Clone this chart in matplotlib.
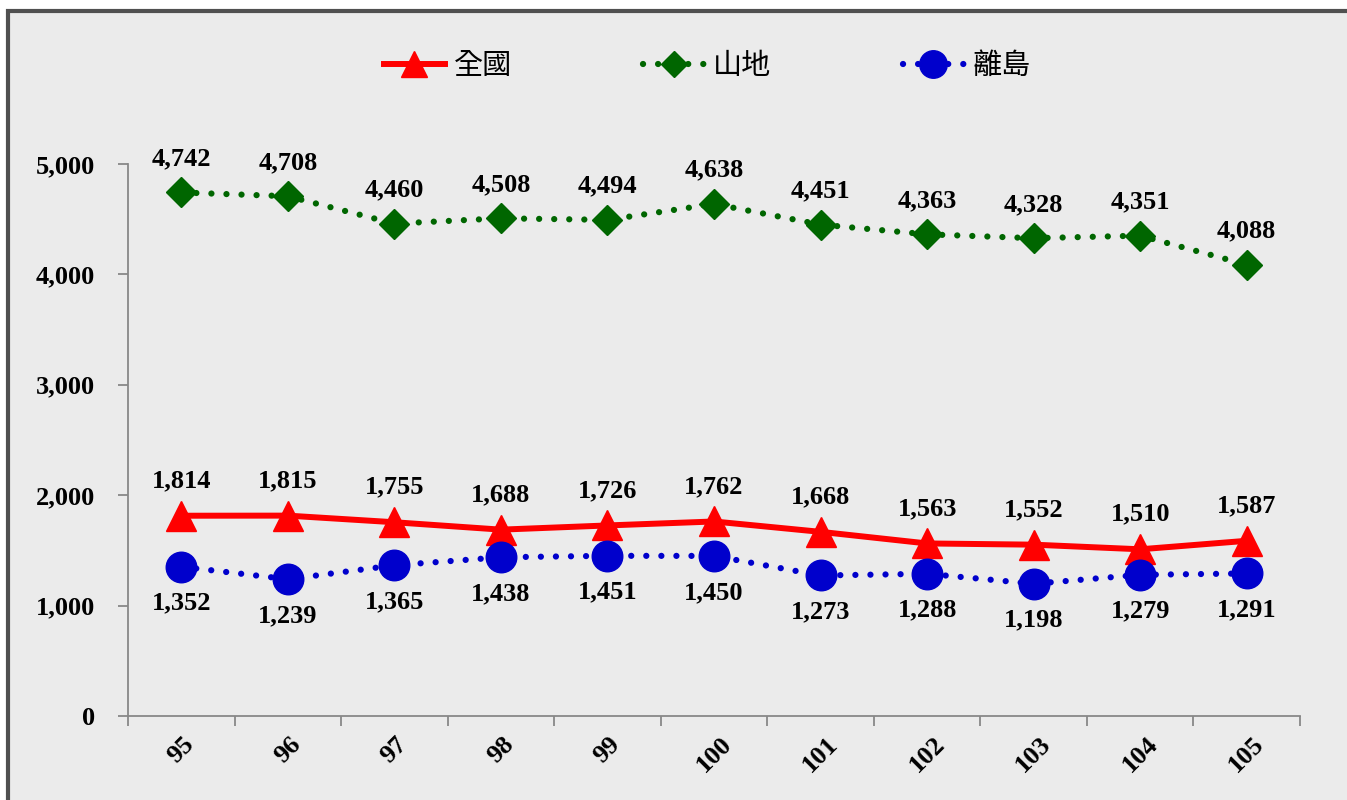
"""Line chart of yearly counts: nationwide, mountain and outlying-island areas."""
import matplotlib.pyplot as plt
from matplotlib.patches import Rectangle
from matplotlib.ticker import FuncFormatter, FixedLocator
import numpy as np

years = ["95", "96", "97", "98", "99", "100", "101", "102", "103", "104", "105"]
national = [1814, 1815, 1755, 1688, 1726, 1762, 1668, 1563, 1552, 1510, 1587]
mountain = [4742, 4708, 4460, 4508, 4494, 4638, 4451, 4363, 4328, 4351, 4088]
island = [1352, 1239, 1365, 1438, 1451, 1450, 1273, 1288, 1198, 1279, 1291]

BG = "#ebebeb"
RED = "#ff0000"
GREEN = "#006600"
BLUE = "#0000cc"

SERIF = ["Liberation Serif", "DejaVu Serif"]
CJK = ["Noto Sans CJK TC", "DejaVu Sans"]

fig = plt.figure(figsize=(13.47, 8), dpi=100)
fig.patch.set_facecolor("white")

# grey panel with dark frame on top/left
fig.patches.append(Rectangle((8 / 1347, -0.1), 1.2, 1 - 11 / 800 + 0.1,
                             transform=fig.transFigure, facecolor=BG,
                             edgecolor="#505050", linewidth=3, zorder=-10))

ax = fig.add_axes([128 / 1347, 1 - 716 / 800, (1300 - 128) / 1347, (716 - 164) / 800])
ax.patch.set_alpha(0)

x = np.arange(len(years))
dots = (0, (0.01, 2.4))

ax.plot(x, national, color=RED, lw=4.3, marker="^", ms=21, label="全國", zorder=3)
ax.plot(x, mountain, color=GREEN, lw=4.5, ls=dots, dash_capstyle="round",
        marker="D", ms=15, label="山地", zorder=3)
ax.plot(x, island, color=BLUE, lw=4.5, ls=dots, dash_capstyle="round",
        marker="o", ms=22, label="離島", zorder=3)

label_kw = dict(ha="center", fontsize=19, fontweight="bold", family=SERIF,
                textcoords="offset points")
for i in range(len(years)):
    ax.annotate(f"{national[i]:,}", (x[i], national[i]), xytext=(0, 17),
                va="bottom", **label_kw)
    ax.annotate(f"{mountain[i]:,}", (x[i], mountain[i]), xytext=(0, 16),
                va="bottom", **label_kw)
    ax.annotate(f"{island[i]:,}", (x[i], island[i]), xytext=(0, -18),
                va="top", **label_kw)

ax.set_xlim(-0.5, len(years) - 0.5)
ax.set_ylim(0, 5000)
ax.set_yticks(np.arange(0, 5001, 1000))
ax.yaxis.set_major_formatter(FuncFormatter(lambda v, p: f"{int(v):,}"))

# category ticks sit between categories; labels at category centres
ax.xaxis.set_major_locator(FixedLocator(np.arange(-0.5, len(years), 1)))
ax.set_xticklabels([])
ax.set_xticks(x, minor=True)
ax.set_xticklabels(years, minor=True, rotation=45, ha="center", va="top",
                   fontsize=19, fontweight="bold", family=SERIF)
ax.tick_params(axis="x", which="minor", length=0, pad=12)
ax.tick_params(axis="x", which="major", length=7, color="#888888", width=1.3)
ax.tick_params(axis="y", length=7, color="#888888", width=1.3, pad=17)
for lbl in ax.get_yticklabels():
    lbl.set_fontsize(19)
    lbl.set_fontweight("bold")
    lbl.set_family(SERIF)

for side in ("top", "right"):
    ax.spines[side].set_visible(False)
for side in ("left", "bottom"):
    ax.spines[side].set_color("#888888")
    ax.spines[side].set_linewidth(1.3)

fig.legend(loc="center", bbox_to_anchor=(0.525, 1 - 66 / 800), ncol=3,
           frameon=False, handlelength=2.1, columnspacing=4.5,
           handletextpad=0.3, markerscale=0.9,
           prop={"family": CJK, "size": 21})

fig.savefig("out.png", dpi=100, facecolor=fig.get_facecolor())
